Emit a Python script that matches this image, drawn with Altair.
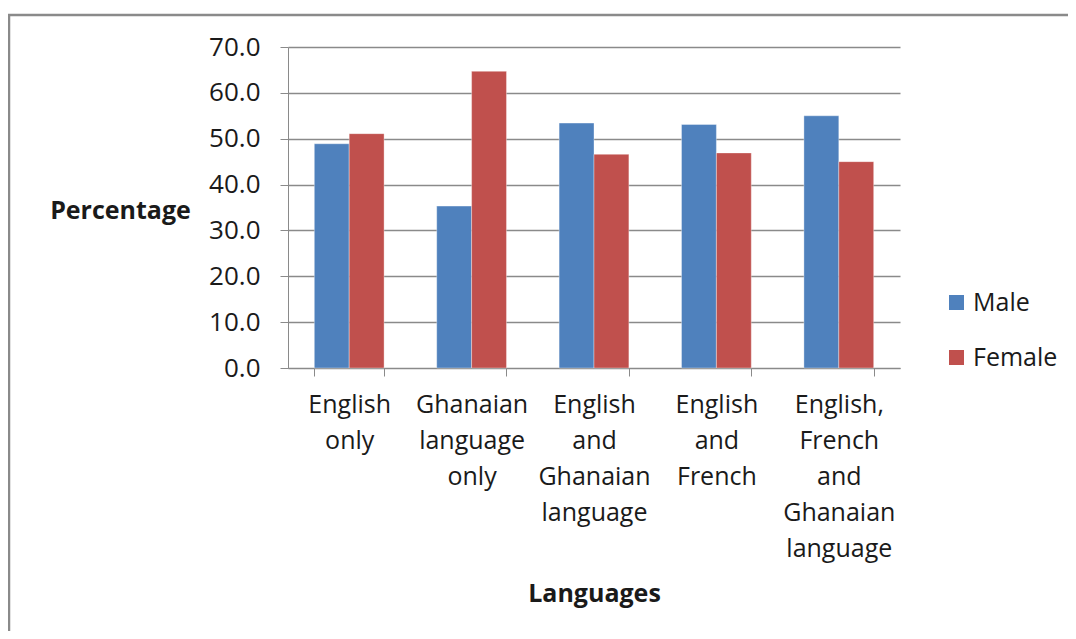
import altair as alt
import pandas as pd

categories = [
    "English only",
    "Ghanaian language only",
    "English and Ghanaian language",
    "English and French",
    "English, French and Ghanaian language",
]
sexes = ["Male", "Female"]
male = [48.9, 35.3, 53.4, 53.1, 55.0]
female = [51.1, 64.7, 46.6, 46.9, 45.0]
colors = ["#4F81BD", "#C0504D"]
y_ticks = [0, 10, 20, 30, 40, 50, 60, 70]

rows = []
for c, m, f in zip(categories, male, female):
    rows.append({"Language": c, "Sex": "Male", "Percentage": m})
    rows.append({"Language": c, "Sex": "Female", "Percentage": f})
df = pd.DataFrame(rows)

GRAY = "#8a8a8a"
FONT = "Open Sans"
FS = 25

bars = alt.Chart(df).mark_bar(stroke="#ffffff", strokeOpacity=0.35, strokeWidth=1).encode(
    x=alt.X(
        "Language:N",
        sort=categories,
        scale=alt.Scale(paddingInner=0.43, paddingOuter=0.215),
        axis=alt.Axis(
            title="Languages",
            titleFontSize=FS,
            titleFontWeight="bold",
            titleY=225,
            titleBaseline="middle",
            labelAngle=0,
            labelExpr="split(datum.label, ' ')",
            labelLineHeight=36,
            labelBaseline="top",
            labelAlign="center",
            labelFontSize=FS,
            labelPadding=16,
            tickBand="extent",
            tickSize=8,
            tickColor=GRAY,
            domainColor=GRAY,
            labelLimit=300,
        ),
    ),
    xOffset=alt.XOffset("Sex:N", sort=sexes, scale=alt.Scale(paddingInner=0, paddingOuter=0)),
    y=alt.Y(
        "Percentage:Q",
        scale=alt.Scale(domain=[0, 70], nice=False),
        axis=alt.Axis(
            values=y_ticks,
            format=".1f",
            title="Percentage",
            titleAngle=0,
            titleX=-168,
            titleY=163,
            titleAlign="center",
            titleBaseline="middle",
            titleFontSize=FS,
            titleFontWeight="bold",
            labelFontSize=26,
            labelPadding=20,
            tickSize=8,
            tickColor=GRAY,
            domainColor=GRAY,
            gridColor=GRAY,
            gridWidth=1.3,
        ),
    ),
    color=alt.Color(
        "Sex:N",
        sort=sexes,
        scale=alt.Scale(domain=sexes, range=colors),
        legend=alt.Legend(
            title=None,
            orient="none",
            legendX=656,
            legendY=243,
            symbolType="square",
            symbolSize=225,
            symbolStrokeWidth=0,
            labelFontSize=FS,
            labelOffset=4,
            rowPadding=29,
        ),
    ),
)

border = alt.Chart(alt.Data(values=[{"a": 1}])).mark_rect(
    fill="white", fillOpacity=0, stroke=GRAY, strokeWidth=2.5
).encode(
    x=alt.value(-279), x2=alt.value(900), y=alt.value(-32), y2=alt.value(700)
)

chart = alt.layer(border, bars).properties(
    width=612,
    height=321,
    autosize=alt.AutoSizeParams(type="none"),
    padding={"left": 280, "top": 39, "right": 168, "bottom": 263},
).configure(
    font=FONT,
).configure_axis(
    labelColor="#1a1a1a",
    titleColor="#1a1a1a",
    labelFont=FONT,
    titleFont=FONT,
).configure_legend(
    labelColor="#1a1a1a",
    labelFont=FONT,
).configure_view(
    stroke="transparent"
)

chart.save("out.html", embed_options={"renderer": "svg", "actions": False})
